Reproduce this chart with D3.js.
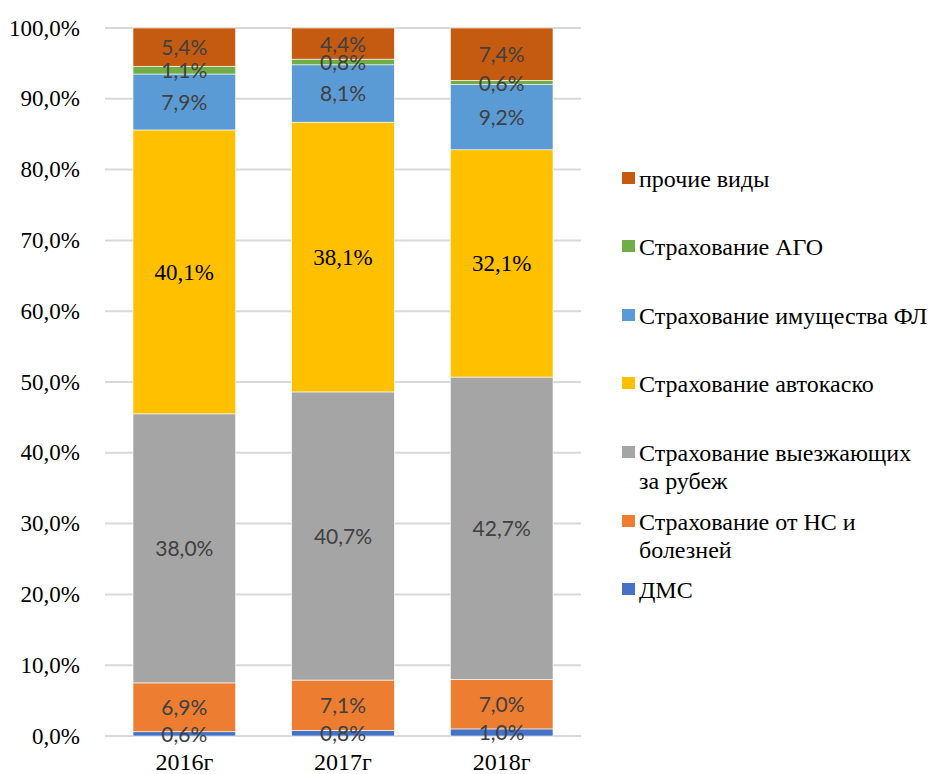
<!DOCTYPE html>
<html>
<head>
<meta charset="utf-8">
<script src="https://cdn.jsdelivr.net/npm/d3@7"></script>
<style>
  body { margin: 0; background: #fff; }
  svg { display: block; }
</style>
</head>
<body>
<svg id="chart" width="933" height="774"></svg>
<script>
// categories
const years = ["2016г", "2017г", "2018г"];
// series, bottom to top
const seriesNames = [
    "ДМС",
    "Страхование от НС и болезней",
    "Страхование выезжающих за рубеж",
    "Страхование автокаско",
    "Страхование имущества ФЛ",
    "Страхование АГО",
    "прочие виды"
];
const dms = [0.6, 0.8, 1.0];
const ns = [6.9, 7.1, 7.0];
const abroad = [38.0, 40.7, 42.7];
const casco = [40.1, 38.1, 32.1];
const property = [7.9, 8.1, 9.2];
const ago = [1.1, 0.8, 0.6];
const other = [5.4, 4.4, 7.4];
const yTicks = [0, 10, 20, 30, 40, 50, 60, 70, 80, 90, 100];

const colors = ["#4472C4", "#ED7D31", "#A5A5A5", "#FFC000", "#5B9BD5", "#70AD47", "#C55A11"];
// legend rows (top to bottom) with line breaks as in the original
const legendRows = [
    { s: 6, lines: ["прочие виды"] },
    { s: 5, lines: ["Страхование АГО"] },
    { s: 4, lines: ["Страхование имущества ФЛ"] },
    { s: 3, lines: ["Страхование автокаско"] },
    { s: 2, lines: ["Страхование выезжающих", "за рубеж"] },
    { s: 1, lines: ["Страхование от НС и", "болезней"] },
    { s: 0, lines: ["ДМС"] }
];

const allSeries = [dms, ns, abroad, casco, property, ago, other];
const table = years.map((y, i) => {
    const row = { year: y };
    seriesNames.forEach((n, k) => row[n] = allSeries[k][i]);
    return row;
});

const svg = d3.select("#chart");
const serif = "'Liberation Serif', 'Times New Roman', serif";
const sans = "Lato, 'Open Sans', sans-serif";
const pct = v => d3.format(".1f")(v).replace(".", ",") + "%";

const x = d3.scaleBand().domain(years).range([105, 581]).paddingInner(0.353).paddingOuter(0.1765);
const y = d3.scaleLinear().domain([0, 100]).range([736, 28]);

// gridlines
svg.append("g")
    .selectAll("line")
    .data(yTicks)
    .join("line")
    .attr("x1", 105)
    .attr("x2", 581)
    .attr("y1", d => y(d))
    .attr("y2", d => y(d))
    .attr("stroke", "#D9D9D9")
    .attr("stroke-width", 2);

// y axis labels
svg.append("g")
    .selectAll("text")
    .data(yTicks)
    .join("text")
    .attr("x", 80)
    .attr("y", d => y(d) + 7.5)
    .attr("text-anchor", "end")
    .attr("font-family", serif)
    .attr("font-size", 23)
    .attr("fill", "#000")
    .text(d => pct(d));

const stack = d3.stack().keys(seriesNames);
const layers = stack(table);

const g = svg.append("g");
layers.forEach((layer, k) => {
    g.append("g")
        .selectAll("rect")
        .data(layer)
        .join("rect")
        .attr("x", d => x(d.data.year))
        .attr("width", x.bandwidth())
        .attr("y", d => y(d[1]))
        .attr("height", d => y(d[0]) - y(d[1]))
        .attr("fill", colors[k])
        .attr("stroke", "#fff")
        .attr("stroke-width", 0.6);
});

// data labels (the autocasco ones are serif black, the rest calibri-like grey)
layers.forEach((layer, k) => {
    const isCasco = k === 3;
    g.append("g")
        .selectAll("text")
        .data(layer)
        .join("text")
        .attr("x", d => x(d.data.year) + x.bandwidth() / 2)
        .attr("y", d => y((d[0] + d[1]) / 2) + 8)
        .attr("text-anchor", "middle")
        .attr("font-family", isCasco ? serif : sans)
        .attr("font-size", isCasco ? 23 : 21)
        .attr("fill", isCasco ? "#000" : "#404040")
        .text(d => pct(d[1] - d[0]));
});

// x axis labels
svg.append("g")
    .selectAll("text")
    .data(years)
    .join("text")
    .attr("x", d => x(d) + x.bandwidth() / 2)
    .attr("y", 770)
    .attr("text-anchor", "middle")
    .attr("font-family", serif)
    .attr("font-size", 24)
    .attr("fill", "#000")
    .text(d => d);

// legend
const legendTop = [172, 240, 309, 377, 446, 515, 583];
const lg = svg.append("g");
legendRows.forEach((r, i) => {
    const ty = legendTop[i];
    lg.append("rect")
        .attr("x", 622)
        .attr("y", ty)
        .attr("width", 13)
        .attr("height", 12)
        .attr("fill", colors[r.s]);
    r.lines.forEach((t, j) => {
        lg.append("text")
            .attr("x", 639)
            .attr("y", ty + 15 + j * 28)
            .attr("font-family", serif)
            .attr("font-size", 24)
            .attr("fill", "#000")
            .text(t);
    });
});
</script>
</body>
</html>
